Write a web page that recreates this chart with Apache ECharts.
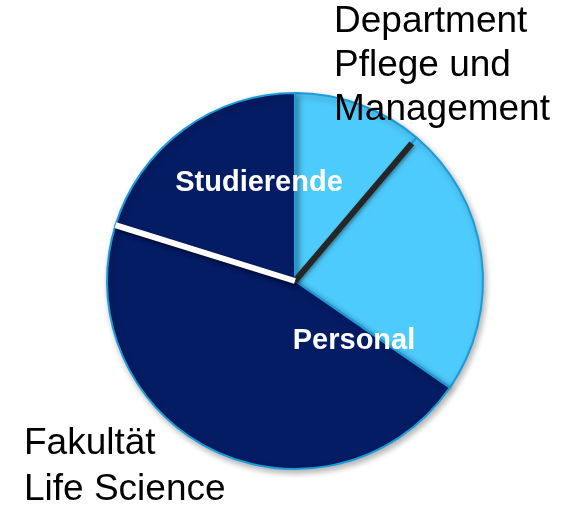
<!DOCTYPE html>
<html>
<head>
<meta charset="utf-8">
<script src="https://cdn.jsdelivr.net/npm/echarts@6/dist/echarts.min.js"></script>
<style>
  html, body { margin: 0; padding: 0; background: #fff; }
  #main { width: 566px; height: 506px; }
</style>
</head>
<body>
<div id="main"></div>
<script>
// Anteile (Prozent), im Uhrzeigersinn ab 12 Uhr
var sliceNames = ["Department Studierende", "Department Personal", "Fakultät Personal", "Fakultät Studierende"];
var sliceValues = [11.2, 23.4, 45.2, 20.2];
var sliceColors = ["#4ecbfd", "#4ecbfd", "#041c64", "#041c64"];
var groupLabels = ["Studierende", "Personal"];

// Trennlinien Studierende / Personal liegen an den kumulierten Grenzen
var darkCut = sliceValues[0];
var whiteCut = sliceValues[0] + sliceValues[1] + sliceValues[2];

var center = [295, 281];
var radius = 188;

var chart = echarts.init(document.getElementById("main"));

var pieData = sliceNames.map(function (n, i) {
  return { name: n, value: sliceValues[i], itemStyle: { color: sliceColors[i] } };
});

chart.setOption({
  animation: false,
  polar: { center: center, radius: radius },
  angleAxis: { type: "value", min: 0, max: 100, startAngle: 90, clockwise: true, show: false },
  radiusAxis: { type: "value", min: 0, max: 1, show: false },
  graphic: [
    {
      type: "text", left: 334, top: 0, z: 10,
      style: { text: "Department\nPflege und\nManagement", fontFamily: "Liberation Sans, Arial", fontSize: 37, lineHeight: 44, fill: "#000" }
    },
    {
      type: "text", left: 24, top: 421, z: 10,
      style: { text: "Fakultät\nLife Science", fontFamily: "Liberation Sans, Arial", fontSize: 37, lineHeight: 46, fill: "#000" }
    },
    {
      type: "text", x: 259, y: 183, z: 10,
      style: { text: groupLabels[0], fontFamily: "Liberation Sans, Arial", fontWeight: "bold", fontSize: 29, fill: "#fff", align: "center", verticalAlign: "middle" }
    },
    {
      type: "text", x: 354, y: 341, z: 10,
      style: { text: groupLabels[1], fontFamily: "Liberation Sans, Arial", fontWeight: "bold", fontSize: 29, fill: "#fff", align: "center", verticalAlign: "middle" }
    }
  ],
  series: [
    {
      type: "pie",
      center: center,
      radius: radius,
      startAngle: 90,
      clockwise: true,
      z: 1,
      label: { show: false },
      labelLine: { show: false },
      emphasis: { disabled: true },
      itemStyle: {
        borderColor: "#1b9bd8",
        borderWidth: 2,
        shadowBlur: 6,
        shadowOffsetX: 2,
        shadowOffsetY: 3,
        shadowColor: "rgba(0,0,0,0.3)"
      },
      data: pieData
    },
    {
      type: "line",
      coordinateSystem: "polar",
      z: 5,
      symbol: "none",
      lineStyle: { color: "#262626", width: 6, cap: "butt", shadowBlur: 3, shadowOffsetX: 1, shadowOffsetY: 2, shadowColor: "rgba(0,0,0,0.3)" },
      data: [[0, darkCut], [0.96, darkCut]]
    },
    {
      type: "line",
      coordinateSystem: "polar",
      z: 5,
      symbol: "none",
      lineStyle: { color: "#ffffff", width: 6, cap: "butt", shadowBlur: 3, shadowOffsetX: 1, shadowOffsetY: 2, shadowColor: "rgba(0,0,0,0.35)" },
      data: [[0, whiteCut], [1.045, whiteCut]]
    }
  ]
});
</script>
</body>
</html>
